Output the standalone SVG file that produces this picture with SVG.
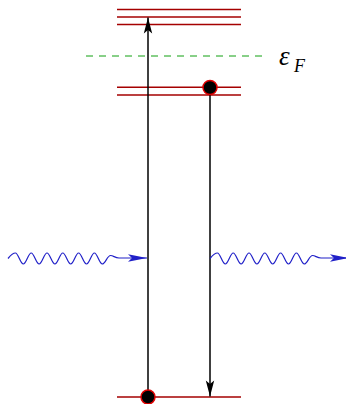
<svg xmlns="http://www.w3.org/2000/svg" xmlns:xlink="http://www.w3.org/1999/xlink" width="346" height="404" viewBox="0 0 346 404">
<style>
.level{stroke:#a50000;stroke-width:1.5;fill:none}
.fermi{stroke:#10a010;stroke-width:1;stroke-dasharray:7,6;fill:none}
.trans{stroke:#000;stroke-width:1.5;fill:none}
.photon{stroke:#2020c8;stroke-width:1.2;fill:none}
.electron{fill:#000;stroke:#e00000;stroke-width:1.5}
.lbl{font-family:"Liberation Serif","DejaVu Serif",serif;font-style:italic;fill:#000}
</style>
<defs>
<marker id="ah" markerUnits="userSpaceOnUse" markerWidth="20" markerHeight="12" viewBox="-17 -6 18 12" refX="0" refY="0" orient="auto">
<path d="M0,0 L-16,-4.2 L-12.5,0 L-16,4.2 Z" fill="#000"/>
</marker>
<marker id="bh" markerUnits="userSpaceOnUse" markerWidth="22" markerHeight="10" viewBox="-20 -5 21 10" refX="0" refY="0" orient="auto">
<path d="M0,0 L-19,-3.8 L-15,0 L-19,3.8 Z" fill="#2020c8"/>
</marker>
<path id="wave" d="M8,258.5 C10.5,255.5 12.5,253 15.4,253 C18.3,253 20.4,264 23.3,264 C26.2,264 28.3,253 31.2,253 C34.1,253 36.2,264 39.1,264 C42,264 44.1,253 47,253 C49.9,253 52,264 54.9,264 C57.8,264 59.9,253 62.8,253 C65.7,253 67.8,264 70.7,264 C73.6,264 75.7,253 78.6,253 C81.5,253 83.6,264 86.5,264 C89.4,264 91.5,253 94.4,253 C97.3,253 99.4,264 102.3,264 C105.2,264 107.4,255.5 110.5,255.5 C113.5,255.5 115,258 119,258 L147,258"/>
</defs>
<g id="upper-levels">
<line class="level" x1="117" y1="9.5" x2="241" y2="9.5"/>
<line class="level" x1="117" y1="17" x2="241" y2="17"/>
<line class="level" x1="117" y1="24.5" x2="241" y2="24.5"/>
</g>
<g id="fermi-level">
<line class="fermi" x1="86" y1="56" x2="268" y2="56"/>
<text class="lbl" x="279" y="65" font-size="27">ε</text>
<text class="lbl" x="294" y="72" font-size="18">F</text>
</g>
<g id="middle-levels">
<line class="level" x1="117" y1="87.3" x2="241" y2="87.3"/>
<line class="level" x1="117" y1="95" x2="241" y2="95"/>
</g>
<g id="ground-level">
<line class="level" x1="117" y1="397" x2="241" y2="397"/>
</g>
<g id="connectors">
<line class="trans" x1="148" y1="397" x2="148" y2="17.5" marker-end="url(#ah)"/>
<line class="trans" x1="210" y1="88" x2="210" y2="396.5" marker-end="url(#ah)"/>
<use xlink:href="#wave" class="photon" marker-end="url(#bh)"/>
<use xlink:href="#wave" class="photon" transform="translate(202,0)" marker-end="url(#bh)"/>
</g>
<g id="electron-upper">
<circle class="electron" cx="210" cy="87.5" r="7"/>
</g>
<g id="electron-lower">
<circle class="electron" cx="148" cy="397" r="7"/>
</g>
</svg>
